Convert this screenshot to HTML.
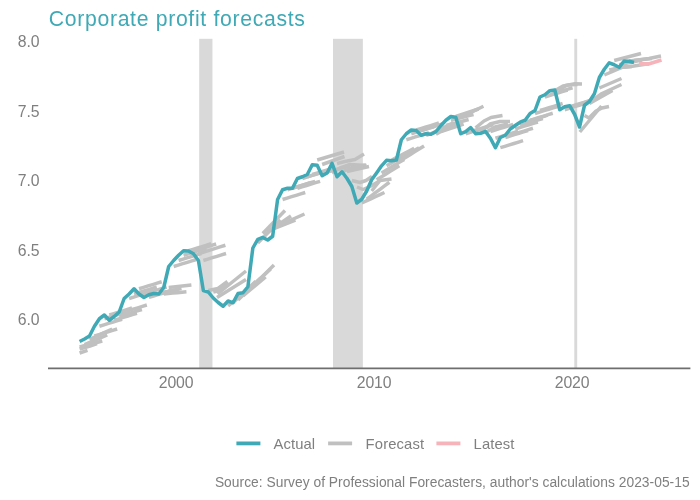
<!DOCTYPE html>
<html><head><meta charset="utf-8"><title>Corporate profit forecasts</title>
<style>
html,body{margin:0;padding:0;background:#fff;}
body{width:700px;height:500px;overflow:hidden;}
svg{display:block;}
text{font-family:"Liberation Sans",Arial,sans-serif;}
</style></head><body>
<svg width="700" height="500" viewBox="0 0 700 500">
<rect width="700" height="500" fill="#fff"/>
<text x="48.8" y="26" font-size="21.2" textLength="256" lengthAdjust="spacing" fill="#3fa9b5">Corporate profit forecasts</text>

<rect x="199.2" y="38.8" width="13.25" height="329.2" fill="#d9d9d9"/>
<rect x="333" y="38.8" width="29.85" height="329.2" fill="#d9d9d9"/>
<rect x="574.3" y="38.8" width="2.9" height="329.2" fill="#d9d9d9"/>
<text x="17.8" y="325.1" font-size="15.8" textLength="21.8" lengthAdjust="spacing" fill="#7f7f7f">6.0</text>
<text x="17.8" y="255.7" font-size="15.8" textLength="21.8" lengthAdjust="spacing" fill="#7f7f7f">6.5</text>
<text x="17.8" y="186.2" font-size="15.8" textLength="21.8" lengthAdjust="spacing" fill="#7f7f7f">7.0</text>
<text x="17.8" y="116.8" font-size="15.8" textLength="21.8" lengthAdjust="spacing" fill="#7f7f7f">7.5</text>
<text x="17.8" y="47.4" font-size="15.8" textLength="21.8" lengthAdjust="spacing" fill="#7f7f7f">8.0</text>
<text x="158.8" y="388.2" font-size="15.8" textLength="34.7" lengthAdjust="spacing" fill="#7f7f7f">2000</text>
<text x="356.8" y="388.2" font-size="15.8" textLength="34.7" lengthAdjust="spacing" fill="#7f7f7f">2010</text>
<text x="554.8" y="388.2" font-size="15.8" textLength="34.7" lengthAdjust="spacing" fill="#7f7f7f">2020</text>
<line x1="48" y1="368.4" x2="690.4" y2="368.4" stroke="#6e6e6e" stroke-width="1.6"/>
<polyline points="79.60,349.00 90.00,346.00 97.00,343.50" fill="none" stroke="#c0c0c0" stroke-width="3.5" stroke-linejoin="round"/>
<polyline points="79.60,353.00 87.50,350.30" fill="none" stroke="#c0c0c0" stroke-width="3.5" stroke-linejoin="round"/>
<polyline points="79.60,347.00 84.14,345.80 88.68,344.60 93.22,343.40 97.76,342.20 102.30,341.00" fill="none" stroke="#c0c0c0" stroke-width="3.5" stroke-linejoin="round"/>
<polyline points="84.55,344.50 89.09,342.60 93.63,340.70 98.17,338.80 102.71,336.90 107.25,335.00" fill="none" stroke="#c0c0c0" stroke-width="3.5" stroke-linejoin="round"/>
<polyline points="89.50,339.50 94.04,337.40 98.58,335.30 103.12,333.20 107.66,331.10 112.20,329.00" fill="none" stroke="#c0c0c0" stroke-width="3.5" stroke-linejoin="round"/>
<polyline points="94.45,336.00 98.99,334.60 103.53,333.20 108.07,331.80 112.61,330.40 117.15,329.00" fill="none" stroke="#c0c0c0" stroke-width="3.5" stroke-linejoin="round"/>
<polyline points="99.40,326.25 103.94,324.85 108.48,323.45 113.02,322.05 117.56,320.65 122.10,319.25" fill="none" stroke="#c0c0c0" stroke-width="3.5" stroke-linejoin="round"/>
<polyline points="104.35,318.75 108.89,317.35 113.43,315.95 117.97,314.55 122.51,313.15 127.05,311.75" fill="none" stroke="#c0c0c0" stroke-width="3.5" stroke-linejoin="round"/>
<polyline points="109.30,315.00 113.84,313.60 118.38,312.20 122.92,310.80 127.46,309.40 132.00,308.00" fill="none" stroke="#c0c0c0" stroke-width="3.5" stroke-linejoin="round"/>
<polyline points="114.25,320.25 118.79,318.85 123.33,317.45 127.87,316.05 132.41,314.65 136.95,313.25" fill="none" stroke="#c0c0c0" stroke-width="3.5" stroke-linejoin="round"/>
<polyline points="119.20,316.50 123.74,315.10 128.28,313.70 132.82,312.30 137.36,310.90 141.90,309.50" fill="none" stroke="#c0c0c0" stroke-width="3.5" stroke-linejoin="round"/>
<polyline points="124.15,312.00 128.69,310.60 133.23,309.20 137.77,307.80 142.31,306.40 146.85,305.00" fill="none" stroke="#c0c0c0" stroke-width="3.5" stroke-linejoin="round"/>
<polyline points="129.10,298.50 133.64,297.10 138.18,295.70 142.72,294.30 147.26,292.90 151.80,291.50" fill="none" stroke="#c0c0c0" stroke-width="3.5" stroke-linejoin="round"/>
<polyline points="134.05,294.00 138.59,292.60 143.13,291.20 147.67,289.80 152.21,288.40 156.75,287.00" fill="none" stroke="#c0c0c0" stroke-width="3.5" stroke-linejoin="round"/>
<polyline points="139.00,288.75 143.54,287.35 148.08,285.95 152.62,284.55 157.16,283.15 161.70,281.75" fill="none" stroke="#c0c0c0" stroke-width="3.5" stroke-linejoin="round"/>
<polyline points="143.95,294.00 148.49,292.60 153.03,291.20 157.57,289.80 162.11,288.40 166.65,287.00" fill="none" stroke="#c0c0c0" stroke-width="3.5" stroke-linejoin="round"/>
<polyline points="148.90,297.45 153.44,296.05 157.98,294.65 162.52,293.25 167.06,291.85 171.60,290.45" fill="none" stroke="#c0c0c0" stroke-width="3.5" stroke-linejoin="round"/>
<polyline points="153.85,294.75 158.39,293.75 162.93,292.75 167.47,291.75 172.01,290.75 176.55,289.75" fill="none" stroke="#c0c0c0" stroke-width="3.5" stroke-linejoin="round"/>
<polyline points="158.80,293.50 163.34,292.50 167.88,291.50 172.42,290.50 176.96,289.50 181.50,288.50" fill="none" stroke="#c0c0c0" stroke-width="3.5" stroke-linejoin="round"/>
<polyline points="163.75,294.00 168.29,293.56 172.83,293.12 177.37,292.68 181.91,292.24 186.45,291.80" fill="none" stroke="#c0c0c0" stroke-width="3.5" stroke-linejoin="round"/>
<polyline points="168.70,287.50 173.24,287.00 177.78,286.50 182.32,286.00 186.86,285.50 191.40,285.00" fill="none" stroke="#c0c0c0" stroke-width="3.5" stroke-linejoin="round"/>
<polyline points="173.65,266.50 178.19,265.10 182.73,263.70 187.27,262.30 191.81,260.90 196.35,259.50" fill="none" stroke="#c0c0c0" stroke-width="3.5" stroke-linejoin="round"/>
<polyline points="178.60,260.50 183.14,259.10 187.68,257.70 192.22,256.30 196.76,254.90 201.30,253.50" fill="none" stroke="#c0c0c0" stroke-width="3.5" stroke-linejoin="round"/>
<polyline points="183.55,255.25 188.09,253.85 192.63,252.45 197.17,251.05 201.71,249.65 206.25,248.25" fill="none" stroke="#c0c0c0" stroke-width="3.5" stroke-linejoin="round"/>
<polyline points="188.50,250.75 193.04,249.35 197.58,247.95 202.12,246.55 206.66,245.15 211.20,243.75" fill="none" stroke="#c0c0c0" stroke-width="3.5" stroke-linejoin="round"/>
<polyline points="193.45,251.00 197.99,249.60 202.53,248.20 207.07,246.80 211.61,245.40 216.15,244.00" fill="none" stroke="#c0c0c0" stroke-width="3.5" stroke-linejoin="round"/>
<polyline points="198.40,253.75 203.80,252.05 209.20,250.35 214.60,248.65 220.00,246.95 225.40,245.25" fill="none" stroke="#c0c0c0" stroke-width="3.5" stroke-linejoin="round"/>
<polyline points="203.35,260.50 207.89,259.10 212.43,257.70 216.97,256.30 221.51,254.90 226.05,253.50" fill="none" stroke="#c0c0c0" stroke-width="3.5" stroke-linejoin="round"/>
<polyline points="208.30,290.50 218.00,288.50 227.50,281.50" fill="none" stroke="#c0c0c0" stroke-width="3.5" stroke-linejoin="round"/>
<polyline points="213.25,292.00 220.00,290.50 229.00,283.50" fill="none" stroke="#c0c0c0" stroke-width="3.5" stroke-linejoin="round"/>
<polyline points="217.50,294.00 246.00,271.00" fill="none" stroke="#c0c0c0" stroke-width="3.5" stroke-linejoin="round"/>
<polyline points="217.00,297.50 246.00,279.50" fill="none" stroke="#c0c0c0" stroke-width="3.5" stroke-linejoin="round"/>
<polyline points="228.10,306.00 250.80,286.50" fill="none" stroke="#c0c0c0" stroke-width="3.5" stroke-linejoin="round"/>
<polyline points="233.05,302.50 255.75,281.30" fill="none" stroke="#c0c0c0" stroke-width="3.5" stroke-linejoin="round"/>
<polyline points="238.00,300.00 260.70,278.00" fill="none" stroke="#c0c0c0" stroke-width="3.5" stroke-linejoin="round"/>
<polyline points="242.95,296.00 265.65,277.00" fill="none" stroke="#c0c0c0" stroke-width="3.5" stroke-linejoin="round"/>
<polyline points="247.90,290.00 270.60,269.00" fill="none" stroke="#c0c0c0" stroke-width="3.5" stroke-linejoin="round"/>
<polyline points="252.85,286.00 274.00,265.00" fill="none" stroke="#c0c0c0" stroke-width="3.5" stroke-linejoin="round"/>
<polyline points="257.80,243.00 280.50,220.00" fill="none" stroke="#c0c0c0" stroke-width="3.5" stroke-linejoin="round"/>
<polyline points="262.75,233.50 285.00,210.50" fill="none" stroke="#c0c0c0" stroke-width="3.5" stroke-linejoin="round"/>
<polyline points="267.70,232.00 291.00,216.00" fill="none" stroke="#c0c0c0" stroke-width="3.5" stroke-linejoin="round"/>
<polyline points="272.65,229.00 295.40,220.00" fill="none" stroke="#c0c0c0" stroke-width="3.5" stroke-linejoin="round"/>
<polyline points="277.60,226.00 304.50,214.00" fill="none" stroke="#c0c0c0" stroke-width="3.5" stroke-linejoin="round"/>
<polyline points="282.55,199.50 287.09,198.10 291.63,196.70 296.17,195.30 300.71,193.90 305.25,192.50" fill="none" stroke="#c0c0c0" stroke-width="3.5" stroke-linejoin="round"/>
<polyline points="287.50,189.75 292.04,188.35 296.58,186.95 301.12,185.55 305.66,184.15 310.20,182.75" fill="none" stroke="#c0c0c0" stroke-width="3.5" stroke-linejoin="round"/>
<polyline points="292.45,188.30 296.99,186.90 301.53,185.50 306.07,184.10 310.61,182.70 315.15,181.30" fill="none" stroke="#c0c0c0" stroke-width="3.5" stroke-linejoin="round"/>
<polyline points="297.40,188.30 301.94,186.90 306.48,185.50 311.02,184.10 315.56,182.70 320.10,181.30" fill="none" stroke="#c0c0c0" stroke-width="3.5" stroke-linejoin="round"/>
<polyline points="302.35,178.50 306.89,177.10 311.43,175.70 315.97,174.30 320.51,172.90 325.05,171.50" fill="none" stroke="#c0c0c0" stroke-width="3.5" stroke-linejoin="round"/>
<polyline points="307.30,176.75 311.84,175.35 316.38,173.95 320.92,172.55 325.46,171.15 330.00,169.75" fill="none" stroke="#c0c0c0" stroke-width="3.5" stroke-linejoin="round"/>
<polyline points="312.25,174.50 316.79,173.10 321.33,171.70 325.87,170.30 330.41,168.90 334.95,167.50" fill="none" stroke="#c0c0c0" stroke-width="3.5" stroke-linejoin="round"/>
<polyline points="317.20,160.00 344.00,152.00" fill="none" stroke="#c0c0c0" stroke-width="3.5" stroke-linejoin="round"/>
<polyline points="322.15,164.50 344.50,156.50" fill="none" stroke="#c0c0c0" stroke-width="3.5" stroke-linejoin="round"/>
<polyline points="327.10,172.00 350.00,166.00" fill="none" stroke="#c0c0c0" stroke-width="3.5" stroke-linejoin="round"/>
<polyline points="332.00,173.00 340.00,168.00 350.00,164.50 366.50,165.50" fill="none" stroke="#c0c0c0" stroke-width="3.5" stroke-linejoin="round"/>
<polyline points="337.00,163.50 345.00,161.50 355.00,159.50 364.00,154.00" fill="none" stroke="#c0c0c0" stroke-width="3.5" stroke-linejoin="round"/>
<polyline points="342.00,172.00 352.00,167.50 366.00,165.00" fill="none" stroke="#c0c0c0" stroke-width="3.5" stroke-linejoin="round"/>
<polyline points="346.90,171.50 369.00,166.50" fill="none" stroke="#c0c0c0" stroke-width="3.5" stroke-linejoin="round"/>
<polyline points="351.85,180.50 360.00,182.50 366.00,180.50 372.00,176.50" fill="none" stroke="#c0c0c0" stroke-width="3.5" stroke-linejoin="round"/>
<polyline points="357.00,187.00 363.00,189.50 370.00,186.50 379.50,181.00" fill="none" stroke="#c0c0c0" stroke-width="3.5" stroke-linejoin="round"/>
<polyline points="361.75,203.00 366.29,200.90 370.83,198.80 375.37,196.70 379.91,194.60 384.45,192.50" fill="none" stroke="#c0c0c0" stroke-width="3.5" stroke-linejoin="round"/>
<polyline points="366.70,199.25 371.24,195.85 375.78,192.45 380.32,189.05 384.86,185.65 389.40,182.25" fill="none" stroke="#c0c0c0" stroke-width="3.5" stroke-linejoin="round"/>
<polyline points="371.65,191.00 380.00,180.50 391.50,179.00" fill="none" stroke="#c0c0c0" stroke-width="3.5" stroke-linejoin="round"/>
<polyline points="376.60,179.75 381.14,176.95 385.68,174.15 390.22,171.35 394.76,168.55 399.30,165.75" fill="none" stroke="#c0c0c0" stroke-width="3.5" stroke-linejoin="round"/>
<polyline points="381.55,172.90 386.09,170.20 390.63,167.50 395.17,164.80 399.71,162.10 404.25,159.40" fill="none" stroke="#c0c0c0" stroke-width="3.5" stroke-linejoin="round"/>
<polyline points="386.50,165.80 391.04,163.20 395.58,160.60 400.12,158.00 404.66,155.40 409.20,152.80" fill="none" stroke="#c0c0c0" stroke-width="3.5" stroke-linejoin="round"/>
<polyline points="391.45,160.30 395.99,157.90 400.53,155.50 405.07,153.10 409.61,150.70 414.15,148.30" fill="none" stroke="#c0c0c0" stroke-width="3.5" stroke-linejoin="round"/>
<polyline points="396.40,160.75 400.94,158.15 405.48,155.55 410.02,152.95 414.56,150.35 419.10,147.75" fill="none" stroke="#c0c0c0" stroke-width="3.5" stroke-linejoin="round"/>
<polyline points="401.35,160.00 405.89,157.20 410.43,154.40 414.97,151.60 419.51,148.80 424.05,146.00" fill="none" stroke="#c0c0c0" stroke-width="3.5" stroke-linejoin="round"/>
<polyline points="406.30,139.75 410.84,138.35 415.38,136.95 419.92,135.55 424.46,134.15 429.00,132.75" fill="none" stroke="#c0c0c0" stroke-width="3.5" stroke-linejoin="round"/>
<polyline points="411.25,133.75 415.79,132.35 420.33,130.95 424.87,129.55 429.41,128.15 433.95,126.75" fill="none" stroke="#c0c0c0" stroke-width="3.5" stroke-linejoin="round"/>
<polyline points="416.20,130.00 420.74,128.60 425.28,127.20 429.82,125.80 434.36,124.40 438.90,123.00" fill="none" stroke="#c0c0c0" stroke-width="3.5" stroke-linejoin="round"/>
<polyline points="421.15,130.50 425.69,129.10 430.23,127.70 434.77,126.30 439.31,124.90 443.85,123.50" fill="none" stroke="#c0c0c0" stroke-width="3.5" stroke-linejoin="round"/>
<polyline points="426.10,135.25 430.64,133.85 435.18,132.45 439.72,131.05 444.26,129.65 448.80,128.25" fill="none" stroke="#c0c0c0" stroke-width="3.5" stroke-linejoin="round"/>
<polyline points="431.05,133.75 435.59,131.55 440.13,129.35 444.67,127.15 449.21,124.95 453.75,122.75" fill="none" stroke="#c0c0c0" stroke-width="3.5" stroke-linejoin="round"/>
<polyline points="436.00,134.20 440.54,131.80 445.08,129.40 449.62,127.00 454.16,124.60 458.70,122.20" fill="none" stroke="#c0c0c0" stroke-width="3.5" stroke-linejoin="round"/>
<polyline points="440.95,131.50 445.49,130.00 450.03,128.50 454.57,127.00 459.11,125.50 463.65,124.00" fill="none" stroke="#c0c0c0" stroke-width="3.5" stroke-linejoin="round"/>
<polyline points="445.90,125.50 450.44,124.30 454.98,123.10 459.52,121.90 464.06,120.70 468.60,119.50" fill="none" stroke="#c0c0c0" stroke-width="3.5" stroke-linejoin="round"/>
<polyline points="450.85,120.25 455.39,119.10 459.93,117.95 464.47,116.80 469.01,115.65 473.55,114.50" fill="none" stroke="#c0c0c0" stroke-width="3.5" stroke-linejoin="round"/>
<polyline points="455.80,116.50 460.34,115.00 464.88,113.50 469.42,112.00 473.96,110.50 478.50,109.00" fill="none" stroke="#c0c0c0" stroke-width="3.5" stroke-linejoin="round"/>
<polyline points="460.75,117.25 465.29,115.05 469.83,112.85 474.37,110.65 478.91,108.45 483.45,106.25" fill="none" stroke="#c0c0c0" stroke-width="3.5" stroke-linejoin="round"/>
<polyline points="465.70,133.75 470.24,132.35 474.78,130.95 479.32,129.55 483.86,128.15 488.40,126.75" fill="none" stroke="#c0c0c0" stroke-width="3.5" stroke-linejoin="round"/>
<polyline points="470.65,131.60 475.19,130.20 479.73,128.80 484.27,127.40 488.81,126.00 493.35,124.60" fill="none" stroke="#c0c0c0" stroke-width="3.5" stroke-linejoin="round"/>
<polyline points="475.60,127.80 484.00,121.00 491.00,117.50 502.50,115.50" fill="none" stroke="#c0c0c0" stroke-width="3.5" stroke-linejoin="round"/>
<polyline points="480.55,132.00 490.00,124.00 500.00,121.50 510.00,121.50" fill="none" stroke="#c0c0c0" stroke-width="3.5" stroke-linejoin="round"/>
<polyline points="485.50,132.50 495.00,127.00 508.00,124.00" fill="none" stroke="#c0c0c0" stroke-width="3.5" stroke-linejoin="round"/>
<polyline points="490.45,131.50 494.99,130.10 499.53,128.70 504.07,127.30 508.61,125.90 513.15,124.50" fill="none" stroke="#c0c0c0" stroke-width="3.5" stroke-linejoin="round"/>
<polyline points="495.40,138.25 499.94,136.85 504.48,135.45 509.02,134.05 513.56,132.65 518.10,131.25" fill="none" stroke="#c0c0c0" stroke-width="3.5" stroke-linejoin="round"/>
<polyline points="500.35,147.70 504.89,146.30 509.43,144.90 513.97,143.50 518.51,142.10 523.05,140.70" fill="none" stroke="#c0c0c0" stroke-width="3.5" stroke-linejoin="round"/>
<polyline points="505.30,137.50 509.84,136.10 514.38,134.70 518.92,133.30 523.46,131.90 528.00,130.50" fill="none" stroke="#c0c0c0" stroke-width="3.5" stroke-linejoin="round"/>
<polyline points="510.25,135.25 514.79,133.85 519.33,132.45 523.87,131.05 528.41,129.65 532.95,128.25" fill="none" stroke="#c0c0c0" stroke-width="3.5" stroke-linejoin="round"/>
<polyline points="515.20,129.00 519.74,127.60 524.28,126.20 528.82,124.80 533.36,123.40 537.90,122.00" fill="none" stroke="#c0c0c0" stroke-width="3.5" stroke-linejoin="round"/>
<polyline points="520.15,125.50 524.69,124.10 529.23,122.70 533.77,121.30 538.31,119.90 542.85,118.50" fill="none" stroke="#c0c0c0" stroke-width="3.5" stroke-linejoin="round"/>
<polyline points="525.10,122.20 529.64,120.80 534.18,119.40 538.72,118.00 543.26,116.60 547.80,115.20" fill="none" stroke="#c0c0c0" stroke-width="3.5" stroke-linejoin="round"/>
<polyline points="530.05,120.25 534.59,118.85 539.13,117.45 543.67,116.05 548.21,114.65 552.75,113.25" fill="none" stroke="#c0c0c0" stroke-width="3.5" stroke-linejoin="round"/>
<polyline points="535.00,113.50 539.54,112.10 544.08,110.70 548.62,109.30 553.16,107.90 557.70,106.50" fill="none" stroke="#c0c0c0" stroke-width="3.5" stroke-linejoin="round"/>
<polyline points="539.95,110.50 544.49,109.10 549.03,107.70 553.57,106.30 558.11,104.90 562.65,103.50" fill="none" stroke="#c0c0c0" stroke-width="3.5" stroke-linejoin="round"/>
<polyline points="544.90,97.00 549.44,95.60 553.98,94.20 558.52,92.80 563.06,91.40 567.60,90.00" fill="none" stroke="#c0c0c0" stroke-width="3.5" stroke-linejoin="round"/>
<polyline points="549.85,94.75 554.39,93.35 558.93,91.95 563.47,90.55 568.01,89.15 572.55,87.75" fill="none" stroke="#c0c0c0" stroke-width="3.5" stroke-linejoin="round"/>
<polyline points="554.80,90.70 563.00,86.00 570.00,84.80 577.50,84.50" fill="none" stroke="#c0c0c0" stroke-width="3.5" stroke-linejoin="round"/>
<polyline points="559.75,90.00 566.00,85.50 575.00,83.80 582.00,84.00" fill="none" stroke="#c0c0c0" stroke-width="3.5" stroke-linejoin="round"/>
<polyline points="564.70,109.75 569.24,108.35 573.78,106.95 578.32,105.55 582.86,104.15 587.40,102.75" fill="none" stroke="#c0c0c0" stroke-width="3.5" stroke-linejoin="round"/>
<polyline points="569.65,106.75 574.19,105.35 578.73,103.95 583.27,102.55 587.81,101.15 592.35,99.75" fill="none" stroke="#c0c0c0" stroke-width="3.5" stroke-linejoin="round"/>
<polyline points="574.60,105.70 579.14,104.30 583.68,102.90 588.22,101.50 592.76,100.10 597.30,98.70" fill="none" stroke="#c0c0c0" stroke-width="3.5" stroke-linejoin="round"/>
<polyline points="579.80,132.00 601.50,106.00" fill="none" stroke="#c0c0c0" stroke-width="3.5" stroke-linejoin="round"/>
<polyline points="584.50,115.50 589.00,118.00 596.00,111.00 602.00,108.00 609.00,106.50" fill="none" stroke="#c0c0c0" stroke-width="3.5" stroke-linejoin="round"/>
<polyline points="589.45,103.50 600.00,97.50 612.50,90.50" fill="none" stroke="#c0c0c0" stroke-width="3.5" stroke-linejoin="round"/>
<polyline points="594.40,99.00 602.00,93.50 621.50,84.50" fill="none" stroke="#c0c0c0" stroke-width="3.5" stroke-linejoin="round"/>
<polyline points="599.35,88.00 621.50,78.50" fill="none" stroke="#c0c0c0" stroke-width="3.5" stroke-linejoin="round"/>
<polyline points="604.30,75.00 626.50,65.50" fill="none" stroke="#c0c0c0" stroke-width="3.5" stroke-linejoin="round"/>
<polyline points="609.25,70.00 620.00,67.50 632.00,66.50" fill="none" stroke="#c0c0c0" stroke-width="3.5" stroke-linejoin="round"/>
<polyline points="614.20,60.50 641.00,53.50" fill="none" stroke="#c0c0c0" stroke-width="3.5" stroke-linejoin="round"/>
<polyline points="619.15,64.75 642.00,60.00" fill="none" stroke="#c0c0c0" stroke-width="3.5" stroke-linejoin="round"/>
<polyline points="624.10,67.30 634.00,66.00 646.80,64.00" fill="none" stroke="#c0c0c0" stroke-width="3.5" stroke-linejoin="round"/>
<polyline points="629.05,61.00 652.00,58.50" fill="none" stroke="#c0c0c0" stroke-width="3.5" stroke-linejoin="round"/>
<polyline points="634.00,60.50 649.00,58.50 661.00,56.00" fill="none" stroke="#c0c0c0" stroke-width="3.5" stroke-linejoin="round"/>
<polyline points="79.60,341.50 84.55,339.00 89.50,336.00 94.45,326.25 99.40,318.75 104.35,315.00 109.30,320.25 114.25,316.50 119.20,312.00 124.15,298.50 129.10,294.00 134.05,288.75 139.00,294.00 143.95,297.45 148.90,294.75 153.85,293.50 158.80,294.00 163.75,287.50 168.70,266.50 173.65,260.50 178.60,255.25 183.55,250.75 188.50,251.00 193.45,253.75 198.40,260.50 203.35,290.50 208.30,292.00 213.25,298.00 218.20,302.50 223.15,306.25 228.10,301.00 233.05,302.80 238.00,293.50 242.95,292.75 247.90,286.75 252.85,248.00 257.80,239.40 262.75,237.50 267.70,240.00 272.65,236.25 277.60,199.50 282.55,189.75 287.50,188.30 292.45,188.30 297.40,178.50 302.35,176.75 307.30,174.50 312.25,164.75 317.20,165.20 322.15,175.70 327.10,173.00 332.05,163.25 337.00,176.75 341.95,171.80 346.90,178.25 351.85,186.50 356.80,203.00 361.75,199.25 366.70,191.00 371.65,179.75 376.60,172.90 381.55,165.80 386.50,160.30 391.45,160.75 396.40,160.00 401.35,139.75 406.30,133.75 411.25,130.00 416.20,130.50 421.15,135.25 426.10,133.75 431.05,134.20 436.00,131.50 440.95,125.50 445.90,120.25 450.85,116.50 455.80,117.25 460.75,133.75 465.70,131.60 470.65,127.50 475.60,133.75 480.55,133.30 485.50,131.50 490.45,138.25 495.40,147.70 500.35,137.50 505.30,135.25 510.25,129.00 515.20,125.50 520.15,122.20 525.10,120.25 530.05,113.50 535.00,110.50 539.95,97.00 544.90,94.75 549.85,90.70 554.80,90.00 559.75,109.75 564.70,106.75 569.65,105.70 574.60,114.25 579.55,127.00 584.50,105.25 589.45,101.50 594.40,93.70 599.35,77.50 604.30,69.25 609.25,62.80 614.20,64.75 619.15,67.30 624.10,61.00 629.05,61.30 634.00,62.50" fill="none" stroke="#3fa9b5" stroke-width="3.5" stroke-linejoin="round"/>
<polyline points="639,63.8 648.5,64 661.5,60" fill="none" stroke="#f6b4ba" stroke-width="3.8" stroke-linejoin="round"/>
<line x1="236.4" y1="443.4" x2="260.4" y2="443.4" stroke="#3fa9b5" stroke-width="3.8"/>
<text x="273.6" y="448.7" font-size="14.8" textLength="41.4" lengthAdjust="spacing" fill="#7f7f7f">Actual</text>
<line x1="328.1" y1="443.4" x2="352.1" y2="443.4" stroke="#c0c0c0" stroke-width="3.8"/>
<text x="365.6" y="448.7" font-size="14.8" textLength="58.5" lengthAdjust="spacing" fill="#7f7f7f">Forecast</text>
<line x1="436.4" y1="443.4" x2="460.4" y2="443.4" stroke="#f6b4ba" stroke-width="3.8"/>
<text x="473.6" y="448.7" font-size="14.8" textLength="40.8" lengthAdjust="spacing" fill="#7f7f7f">Latest</text>
<text x="214.9" y="487.3" font-size="13.8" textLength="474.7" lengthAdjust="spacing" fill="#7f7f7f">Source: Survey of Professional Forecasters, author's calculations 2023-05-15</text>
</svg></body></html>
